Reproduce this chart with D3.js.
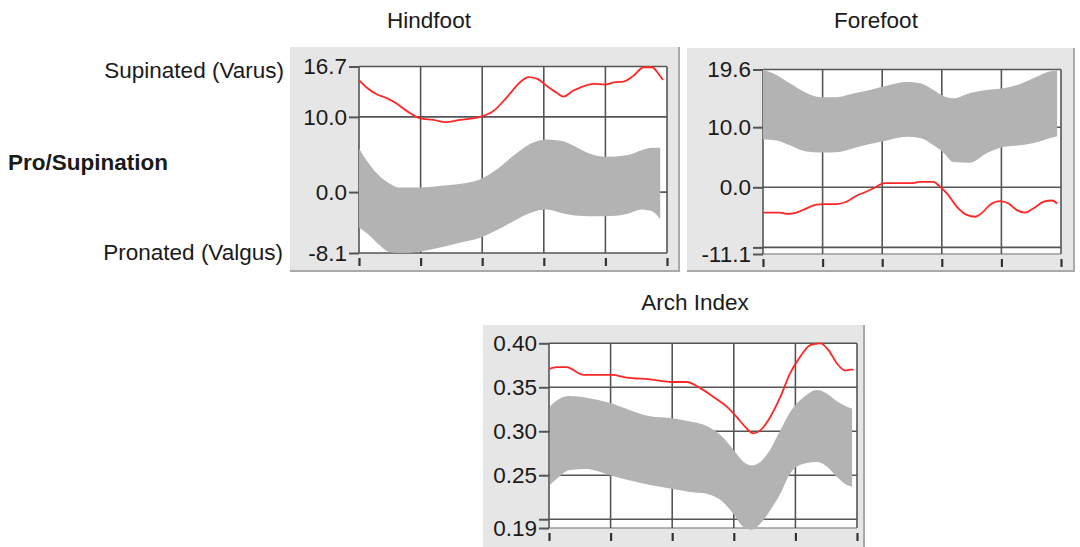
<!DOCTYPE html>
<html>
<head>
<meta charset="utf-8">
<script src="https://cdn.jsdelivr.net/npm/d3@7"></script>
<style>
  html, body { margin: 0; padding: 0; background: #fff; }
  svg { display: block; font-family: "Liberation Sans", Arial, Helvetica, sans-serif; }
</style>
</head>
<body>
<svg id="chart" width="1080" height="547"></svg>
<script>
// ---- Data -------------------------------------------------------------
const xTicks = [0, 20, 40, 60, 80, 100];

// Hindfoot pro/supination (degrees)
const hindTicks = [-8.1, 0.0, 10.0, 16.7];
const hindMeanX = [0, 2.5, 5.7, 9.0, 11.7, 15.5, 19.8, 24.2, 28.0, 32.8, 39.3, 43.7, 48.0, 52.3, 55.0, 57.7, 61.0, 64.2, 66.4, 69.6, 71.8, 76.2, 80.0, 82.7, 85.9, 89.2, 92.4, 95.1, 97.3, 98.7];
const hindMean  = [14.9, 13.9, 13.0, 12.5, 11.9, 10.8, 9.8, 9.6, 9.3, 9.6, 10.0, 10.8, 12.6, 14.6, 15.3, 15.1, 14.1, 13.2, 12.7, 13.5, 13.9, 14.4, 14.3, 14.6, 14.7, 15.5, 16.6, 16.6, 15.7, 14.9];
const hindBandX  = [0, 3, 6, 10, 13, 20, 26, 33, 39, 45, 50, 56, 61, 66, 70, 75, 80, 87, 92, 95, 97.8];
const hindBandHi = [5.8, 3.9, 2.4, 1.1, 0.6, 0.6, 0.8, 1.1, 1.65, 3.1, 4.8, 6.5, 7.0, 6.8, 6.1, 5.1, 4.7, 4.9, 5.6, 5.9, 5.9];
const hindBandLo = [-4.7, -5.6, -6.8, -8.0, -8.1, -7.9, -7.4, -6.7, -6.1, -5.0, -3.9, -2.7, -2.3, -2.8, -3.1, -3.2, -3.2, -2.9, -2.3, -2.5, -3.6];

// Forefoot pro/supination (degrees)
const foreTicks = [-11.1, 0.0, 10.0, 19.6];
const foreMinorTicks = [-10];
const foreMeanX = [0, 5.6, 7.8, 11.2, 14.6, 17.9, 20.4, 24.7, 28.0, 31.4, 34.8, 38.1, 40.6, 46.0, 50.4, 52.7, 57.2, 59.4, 61.7, 65.0, 68.4, 71.2, 73.4, 76.2, 79.6, 82.4, 85.2, 88.0, 90.8, 94.2, 97.0, 98.7];
const foreMean  = [-4.2, -4.2, -4.4, -4.2, -3.5, -2.9, -2.8, -2.8, -2.4, -1.4, -0.7, 0.1, 0.7, 0.7, 0.7, 0.9, 0.9, 0.1, -1.0, -3.2, -4.6, -4.9, -4.3, -2.9, -2.3, -2.7, -3.8, -4.2, -3.5, -2.4, -2.2, -2.7];
const foreBandX  = [0, 4.5, 9.0, 14.6, 19.1, 24.7, 30.3, 35.9, 41.5, 48.2, 52.7, 57.2, 60.5, 63.9, 69.5, 75.1, 80.7, 86.3, 91.9, 96.4, 98.7];
const foreBandHi = [19.6, 18.7, 17.3, 15.7, 15.0, 15.0, 15.6, 16.2, 16.9, 17.5, 17.3, 16.2, 15.2, 14.8, 15.7, 16.2, 16.5, 17.2, 18.4, 19.3, 19.4];
const foreBandLo = [8.0, 7.8, 7.0, 5.95, 5.8, 5.85, 6.5, 7.2, 7.8, 8.4, 8.2, 7.0, 5.8, 4.2, 4.1, 5.7, 6.7, 7.0, 7.5, 8.2, 8.5];

// Arch index
const archTicks = [0.19, 0.25, 0.30, 0.35, 0.40];
const archMinorTicks = [0.20];
const archMeanX = [0, 2.5, 5.7, 11.2, 20.4, 25.2, 32.8, 40.4, 44.7, 49.1, 53.4, 57.7, 61.0, 63.7, 66.4, 68.6, 71.8, 75.1, 78.3, 81.6, 84.8, 88.1, 90.8, 93.5, 96.2, 97.8, 98.9];
const archMean  = [0.371, 0.373, 0.373, 0.364, 0.364, 0.361, 0.359, 0.356, 0.356, 0.349, 0.339, 0.328, 0.316, 0.305, 0.2975, 0.301, 0.316, 0.339, 0.366, 0.385, 0.398, 0.400, 0.392, 0.377, 0.369, 0.370, 0.370];
const archBandX  = [0.3, 2.5, 6.8, 12.2, 19.8, 26.3, 32.8, 39.3, 45.8, 51.2, 55.6, 59.9, 63.2, 65.9, 68.6, 71.8, 75.1, 78.3, 82.7, 87.0, 90.2, 93.5, 96.7, 98.4];
const archBandHi = [0.328, 0.335, 0.340, 0.338, 0.332, 0.324, 0.317, 0.315, 0.311, 0.306, 0.296, 0.279, 0.265, 0.261, 0.265, 0.279, 0.301, 0.322, 0.339, 0.347, 0.343, 0.334, 0.328, 0.326];
const archBandLo = [0.239, 0.246, 0.256, 0.257, 0.250, 0.244, 0.239, 0.235, 0.231, 0.229, 0.222, 0.206, 0.191, 0.188, 0.195, 0.210, 0.229, 0.252, 0.263, 0.265, 0.260, 0.248, 0.239, 0.237];

// ---- Drawing ----------------------------------------------------------
const svg = d3.select("#chart");
const GRID = "#555";
const BAND = "#b3b3b3";
const MEAN = "#ff2626";
const INK = "#1a1a1a";
const FONT = "22.5px";

function drawPanel(p) {
  const g = svg.append("g");

  // panel background with darker right/bottom edge
  g.append("rect").attr("x", p.box[0]).attr("y", p.box[1])
    .attr("width", p.box[2]).attr("height", p.box[3]).attr("fill", "#a9a9a9");
  g.append("rect").attr("x", p.box[0]).attr("y", p.box[1])
    .attr("width", p.box[2] - 2).attr("height", p.box[3] - 2).attr("fill", "#e6e6e6");

  const x = d3.scaleLinear().domain([0, 100]).range([p.plot[0], p.plot[1]]);
  const yMin = p.ticks[0], yMax = p.ticks[p.ticks.length - 1];
  const y = d3.scaleLinear().domain([yMin, yMax]).range([p.plot[3], p.plot[2]]);

  // plotting area
  g.append("rect").attr("x", x(0)).attr("y", y(yMax))
    .attr("width", x(100) - x(0)).attr("height", y(yMin) - y(yMax)).attr("fill", "#fff");

  // grid: the lowest line is a plain frame edge when a minor line sits just above it
  const gridY = p.ticks.concat(p.minor || []);
  g.append("g").selectAll("line").data(gridY).join("line")
    .attr("x1", x(0)).attr("x2", x(100))
    .attr("y1", d => y(d)).attr("y2", d => y(d))
    .attr("stroke", d => (p.minor && d === yMin) ? "#9a9a9a" : GRID)
    .attr("stroke-width", 1.6);
  g.append("g").selectAll("line").data(xTicks).join("line")
    .attr("x1", d => x(d)).attr("x2", d => x(d))
    .attr("y1", y(yMax)).attr("y2", y(yMin))
    .attr("stroke", GRID).attr("stroke-width", 1.6);

  // spread band
  const band = d3.area()
    .x((d, i) => x(p.bandX[i]))
    .y0((d, i) => y(p.bandLo[i]))
    .y1((d, i) => y(p.bandHi[i]))
    .curve(d3.curveMonotoneX);
  g.append("path").datum(p.bandX).attr("d", band).attr("fill", BAND);

  // y axis: labels and short ticks
  const fmt = d3.format(p.fmt);
  const yAxis = d3.axisLeft(y).tickValues(gridY).tickSize(10).tickPadding(2)
    .tickFormat(d => (p.minor || []).includes(d) ? "" : fmt(d).replace("\u2212", "-"));
  const ya = g.append("g").attr("transform", `translate(${x(0)},0)`).call(yAxis);
  ya.select(".domain").remove();
  ya.selectAll(".tick line").attr("stroke", GRID).attr("stroke-width", 2);
  ya.selectAll(".tick text").attr("fill", INK)
    .style("font-size", FONT).style("font-family", "'Liberation Sans', Arial, sans-serif");

  // x axis: unlabeled ticks under the plot
  const xa = g.append("g").attr("transform", `translate(0,${y(yMin) + 13})`)
    .call(d3.axisTop(x).tickValues(xTicks).tickSize(8).tickFormat(""));
  xa.select(".domain").remove();
  xa.selectAll(".tick line").attr("stroke", "#333").attr("stroke-width", 2.2);

  // mean curve
  const line = d3.line()
    .x((d, i) => x(p.meanX[i]))
    .y((d, i) => y(p.mean[i]))
    .curve(d3.curveMonotoneX);
  g.append("path").datum(p.meanX).attr("d", line)
    .attr("fill", "none").attr("stroke", MEAN).attr("stroke-width", 1.8);

  // title
  svg.append("text").attr("x", p.title[1]).attr("y", p.title[2])
    .attr("text-anchor", "middle").attr("fill", INK)
    .style("font-size", FONT).text(p.title[0]);
}

drawPanel({
  title: ["Hindfoot", 429, 28],
  box: [290, 47, 390, 225], plot: [359, 667, 66.5, 253],
  ticks: hindTicks, fmt: ".1f",
  meanX: hindMeanX, mean: hindMean,
  bandX: hindBandX, bandLo: hindBandLo, bandHi: hindBandHi
});
drawPanel({
  title: ["Forefoot", 876, 28],
  box: [687, 48, 388, 224], plot: [763, 1061, 69.5, 254],
  ticks: foreTicks, minor: foreMinorTicks, fmt: ".1f",
  meanX: foreMeanX, mean: foreMean,
  bandX: foreBandX, bandLo: foreBandLo, bandHi: foreBandHi
});
drawPanel({
  title: ["Arch Index", 695, 310],
  box: [483, 325, 382, 224], plot: [549, 857, 343.3, 528],
  ticks: archTicks, minor: archMinorTicks, fmt: ".2f",
  meanX: archMeanX, mean: archMean,
  bandX: archBandX, bandLo: archBandLo, bandHi: archBandHi
});

// row labels
svg.append("text").attr("x", 284).attr("y", 78).attr("text-anchor", "end")
  .attr("fill", INK).style("font-size", FONT).text("Supinated (Varus)");
svg.append("text").attr("x", 283).attr("y", 260).attr("text-anchor", "end")
  .attr("fill", INK).style("font-size", FONT).text("Pronated (Valgus)");
svg.append("text").attr("x", 8).attr("y", 170)
  .attr("fill", INK).style("font-size", FONT).style("font-weight", "bold").text("Pro/Supination");
</script>
</body>
</html>
